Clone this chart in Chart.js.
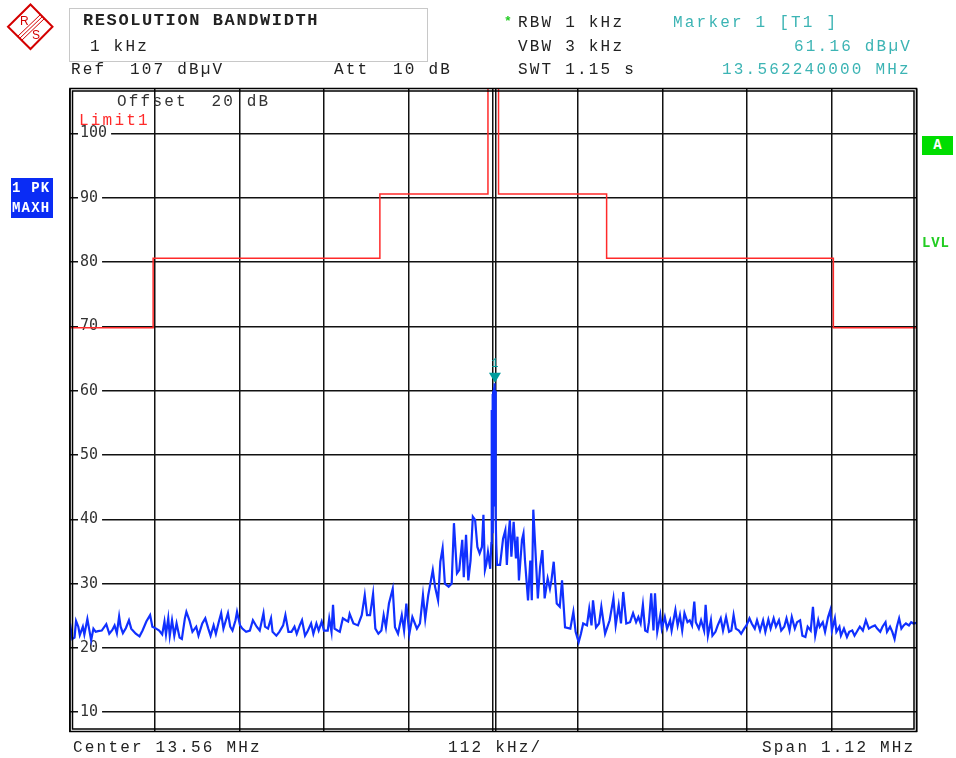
<!DOCTYPE html>
<html>
<head>
<meta charset="utf-8">
<script src="https://cdn.jsdelivr.net/npm/chart.js@4.4.1/dist/chart.umd.min.js"></script>
<style>
  html, body { margin: 0; padding: 0; background: #fff; }
  body { width: 956px; height: 758px; position: relative; overflow: hidden; }
  #chart { position: absolute; left: 0; top: 0; }
  .t { position: absolute; font-family: 'Liberation Mono', monospace; font-size: 16px; line-height: 16px;
       letter-spacing: 2.2px; color: #222; white-space: pre; }
  .tb { position: absolute; font-family: 'Liberation Mono', monospace; font-size: 17px; line-height: 18px;
        letter-spacing: 1.6px; font-weight: bold; color: #222; white-space: pre; }
  .teal { color: #3cb4b4; }
  .box { position: absolute; left: 69px; top: 8px; width: 357px; height: 52px; border: 1px solid #c8c8c8; }
  .pk { position: absolute; left: 11px; top: 178px; width: 42px; height: 40px; background: #0a2cf5; }
  .pk div { position: absolute; left: 1px; width: 42px; color: #fff; font-family: 'Liberation Mono', monospace;
            font-weight: bold; font-size: 14px; line-height: 14px; letter-spacing: 1.2px; white-space: pre; }
  .abox { position: absolute; left: 922px; top: 136px; width: 31px; height: 19px; background: #00dd00;
          color: #fff; font-family: 'Liberation Mono', monospace; font-weight: bold; font-size: 14px;
          line-height: 19px; text-align: center; }
  .lvl { position: absolute; left: 922px; top: 235px; color: #22cc22; font-family: 'Liberation Mono', monospace;
         font-weight: bold; font-size: 14px; line-height: 16px; letter-spacing: 0.8px; }
</style>
</head>
<body>
<canvas id="chart" width="956" height="758"></canvas>

<svg width="60" height="56" style="position:absolute;left:0;top:0">
  <polygon points="30.5,4.5 52.5,26.8 30.5,49 8,26.8" fill="#fff" stroke="#d40000" stroke-width="2"/>
  <line x1="17" y1="37" x2="41" y2="14" stroke="#d40000" stroke-width="1"/>
  <line x1="19" y1="39" x2="43" y2="16" stroke="#d40000" stroke-width="1"/>
  <line x1="21" y1="41" x2="45" y2="18" stroke="#d40000" stroke-width="1"/>
  <text x="20" y="25" font-family="Liberation Sans" font-size="12" fill="#d40000">R</text>
  <text x="32" y="39" font-family="Liberation Sans" font-size="12" fill="#d40000">S</text>
</svg>

<div class="box"></div>
<div class="tb" style="left:83px;top:12px">RESOLUTION BANDWIDTH</div>
<div class="t" style="left:90px;top:39px">1 kHz</div>
<div class="t" style="left:71px;top:62px">Ref  107 dBµV</div>
<div class="t" style="left:334px;top:62px">Att  10 dB</div>

<div class="t" style="left:504px;top:14px;color:#22cc22;font-weight:bold;font-size:13px">*</div>
<div class="t" style="left:518px;top:15px">RBW 1 kHz</div>
<div class="t" style="left:518px;top:39px">VBW 3 kHz</div>
<div class="t" style="left:518px;top:62px">SWT 1.15 s</div>
<div class="t teal" style="left:673px;top:15px">Marker 1 [T1 ]</div>
<div class="t teal" style="left:794px;top:39px">61.16 dBµV</div>
<div class="t teal" style="left:722px;top:62px">13.562240000 MHz</div>

<div class="t" style="left:117px;top:94px;color:#333">Offset  20 dB</div>
<div class="t" style="left:79px;top:113px;color:#ff2a2a">Limit1</div>

<div class="pk"><div style="top:3px">1 PK</div><div style="top:23px">MAXH</div></div>
<div class="abox">A</div>
<div class="lvl">LVL</div>

<div class="t" style="left:73px;top:740px">Center 13.56 MHz</div>
<div class="t" style="left:448px;top:740px">112 kHz/</div>
<div class="t" style="left:762px;top:740px">Span 1.12 MHz</div>

<script>
// sweep settings
const centerMHz = 13.56;
const startMHz = 13.00;
const stopMHz = 14.12;
const bottomDb = 7;
const refDb = 107;

// vertical grid (112 kHz/div, center line drawn double)
const gridMHz = [13.000, 13.112, 13.224, 13.336, 13.448, 13.5588, 13.5627, 13.672, 13.784, 13.896, 14.008, 14.120];
// level tick labels
const levelTicks = [10, 20, 30, 40, 50, 60, 70, 80, 90, 100];

// Limit1 mask (stepped)
const limitEdgeMHz = [13.000, 13.110, 13.410, 13.553, 13.567, 13.710, 14.010, 14.120];
const limitLevelDb = [69.8, 80.6, 90.6, 120, 90.6, 80.6, 69.8, 69.8];

// marker 1
const markerMHz = 13.56224;
const markerDb = 61.16;

// trace 1 (PK, MAXH): offset from center in kHz, level in dBµV
const traceOffsetKHz = [
  -560, -557, -554, -552, -549, -547, -543, -541, -537, -534,
  -532, -529, -526, -523, -518, -512, -508, -504, -501, -498,
  -495, -493, -490, -486, -482, -479, -473, -468, -464, -459,
  -454, -451, -446, -442, -438, -435, -433, -430, -428, -425,
  -422, -419, -415, -412, -408, -406, -402, -398, -393, -390,
  -385, -381, -377, -374, -370, -367, -363, -360, -357, -355,
  -351, -348, -345, -341, -339, -335, -332, -327, -322, -318,
  -313, -309, -304, -302, -298, -294, -292, -287, -283, -278,
  -275, -271, -267, -263, -260, -256, -253, -249, -246, -241,
  -238, -234, -231, -227, -224, -219, -217, -214, -212, -210,
  -206, -203, -199, -195, -192, -190, -185, -179, -174, -170,
  -167, -163, -159, -156, -152, -148, -145, -142, -138, -133,
  -130, -126, -121, -118, -115, -111, -107, -101, -97, -93,
  -90, -86, -84, -80, -77, -73, -70, -67, -64, -59,
  -55, -52, -48, -45, -41, -39, -36, -33, -30, -27,
  -24, -21, -18, -15, -13, -11, -9, -7, -4, -2.5,
  -2, -1.5, -1, -0.5, 0, 0.5, 1, 1.5, 2, 2.5,
  3, 3.5, 4, 5, 9, 13, 16, 18,
  20, 22, 24, 27, 30, 32, 34, 38, 40, 42,
  46, 49, 51, 53, 56, 59, 62, 65, 68, 72,
  75, 77, 80, 84, 88, 91, 95, 102, 106, 109,
  113, 116, 119, 124, 127, 130, 132, 136, 140, 143,
  148, 154, 159, 162, 166, 169, 172, 176, 181, 185,
  189, 192, 195, 198, 201, 204, 206, 209, 212, 214,
  217, 221, 223, 227, 230, 234, 236, 241, 244, 247,
  250, 253, 257, 260, 263, 266, 268, 272, 275, 279,
  281, 284, 288, 290, 294, 297, 301, 304, 308, 312,
  315, 318, 321, 325, 328, 332, 335, 339, 342, 346,
  349, 353, 357, 360, 364, 367, 371, 374, 378, 381,
  385, 388, 392, 395, 399, 402, 406, 409, 413, 416,
  420, 423, 426, 430, 432, 436, 439, 443, 446, 448,
  452, 454, 458, 460, 464, 468, 471, 475, 478, 482,
  485, 489, 493, 497, 501, 505, 508, 512, 515, 519,
  521, 525, 528, 531, 534, 537, 540, 543, 546, 550,
  553, 556, 560
];
const traceLevelDb = [
  23.8, 21.4, 21.6, 24.2, 23.3, 22.0, 23.3, 22.1, 24.5, 22.5,
  21.2, 23.0, 22.5, 22.6, 22.7, 23.7, 22.2, 22.8, 23.5, 22.3,
  24.9, 23.3, 22.3, 23.1, 24.3, 23.0, 22.2, 21.8, 22.7, 24.1,
  25.1, 23.3, 23.0, 22.7, 22.1, 24.1, 22.1, 24.6, 21.9, 24.3,
  21.9, 23.8, 21.6, 21.4, 24.6, 25.6, 24.3, 22.5, 23.3, 21.9,
  23.8, 24.6, 23.0, 21.9, 23.5, 22.2, 24.1, 25.4, 23.0, 23.8,
  25.4, 23.3, 22.7, 24.3, 25.6, 23.5, 23.0, 22.5, 22.7, 24.3,
  23.3, 22.7, 25.4, 23.3, 23.0, 24.6, 22.5, 21.9, 22.5, 23.5,
  25.1, 22.5, 22.5, 23.3, 22.2, 23.5, 24.3, 21.9, 22.5, 23.8,
  22.2, 23.8, 22.7, 24.1, 22.7, 22.7, 24.6, 22.5, 26.7, 23.0,
  22.7, 22.5, 24.6, 24.3, 24.1, 25.3, 23.8, 23.5, 25.1, 28.2,
  25.1, 25.1, 28.4, 23.0, 22.2, 22.7, 25.1, 23.2, 26.9, 29.2,
  23.2, 22.2, 25.1, 22.7, 26.9, 22.2, 24.8, 23.0, 23.8, 28.2,
  24.5, 28.2, 29.5, 32.1, 29.5, 27.4, 33.4, 35.5, 30.0, 29.5,
  30.0, 39.4, 31.6, 32.1, 36.8, 31.0, 37.6, 30.5, 33.6, 40.4,
  39.9, 35.7, 34.7, 35.7, 40.7, 32.1, 33.1, 34.9, 32.3, 36.3,
  57.0, 38.0, 59.5, 40.0, 60.0, 42.0, 60.5, 45.0, 61.16, 47.0,
  60.0, 40.0, 36.0, 32.9, 32.9, 37.0, 38.3, 32.9,
  37.3, 39.9, 34.2, 39.6, 33.9, 37.3, 30.5, 36.8, 37.8, 33.6,
  27.4, 33.6, 27.4, 41.5, 34.7, 27.7, 32.6, 35.2, 27.7, 30.8,
  29.2, 30.5, 33.4, 26.9, 26.4, 30.5, 23.2, 23.0, 25.6, 22.5,
  20.9, 22.2, 23.8, 23.5, 26.1, 23.5, 27.4, 23.2, 23.8, 26.4,
  22.2, 24.3, 27.7, 23.5, 26.6, 23.8, 28.7, 23.8, 24.0, 25.4,
  24.0, 24.8, 23.8, 26.7, 22.7, 22.5, 24.0, 28.5, 22.7, 28.5,
  22.5, 25.1, 23.0, 24.8, 23.0, 24.3, 22.7, 25.9, 23.5, 25.1,
  22.7, 25.4, 24.0, 24.3, 23.5, 27.2, 24.0, 23.0, 24.3, 22.7,
  26.7, 21.9, 24.3, 21.9, 22.5, 23.5, 24.6, 22.7, 24.8, 22.5,
  22.7, 25.1, 23.0, 22.7, 22.2, 23.0, 23.5, 24.6, 23.8, 23.0,
  24.3, 22.7, 24.3, 22.5, 24.4, 23.0, 24.6, 23.3, 24.3, 22.7,
  23.3, 24.6, 22.7, 24.8, 23.0, 24.0, 24.3, 21.9, 21.7, 23.3,
  22.7, 26.4, 21.9, 24.3, 23.3, 24.0, 22.5, 24.8, 25.9, 22.7,
  24.6, 22.5, 23.3, 21.9, 23.0, 21.7, 22.5, 22.7, 21.9, 22.7,
  23.3, 22.7, 24.3, 23.0, 23.3, 23.5, 23.0, 22.5, 23.3, 24.0,
  22.5, 23.3, 22.5, 21.4, 23.3, 24.6, 23.0, 23.5, 23.8, 23.5,
  24.0, 23.8, 23.9
];

const framePlugin = {
  id: 'frame',
  afterDatasetsDraw(chart) {
    const { ctx, chartArea: a } = chart;
    ctx.save();
    ctx.strokeStyle = '#000';
    ctx.lineWidth = 1.5;
    ctx.strokeRect(a.left, a.top, a.width, a.height);
    ctx.strokeRect(a.left + 2.5, a.top + 2.5, a.width - 5, a.height - 5);
    ctx.restore();
  }
};

const markerPlugin = {
  id: 'marker1',
  afterDatasetsDraw(chart) {
    const { ctx, scales } = chart;
    const px = scales.x.getPixelForValue(markerMHz);
    const py = scales.y.getPixelForValue(markerDb);
    ctx.save();
    ctx.fillStyle = '#009c9c';
    ctx.beginPath();
    ctx.moveTo(px, py - 0.5);
    ctx.lineTo(px - 6, py - 10.5);
    ctx.lineTo(px + 6, py - 10.5);
    ctx.closePath();
    ctx.fill();
    ctx.font = '12px "Liberation Mono"';
    ctx.textAlign = 'center';
    ctx.textBaseline = 'alphabetic';
    ctx.fillText('1', px, py - 16);
    ctx.restore();
  }
};

const ctx = document.getElementById('chart').getContext('2d');
new Chart(ctx, {
  type: 'line',
  data: {
    datasets: [
      {
        label: 'Limit1',
        data: limitEdgeMHz.map((f, i) => ({ x: f, y: limitLevelDb[i] })),
        borderColor: '#ff2a2a',
        borderWidth: 1.5,
        stepped: 'before',
        pointRadius: 0,
        fill: false
      },
      {
        label: '1 PK MAXH',
        data: traceOffsetKHz.map((k, i) => ({ x: centerMHz + k / 1000, y: traceLevelDb[i] })),
        borderColor: '#1030ff',
        borderWidth: 2.2,
        pointRadius: 0,
        tension: 0,
        fill: false
      }
    ]
  },
  options: {
    responsive: false,
    animation: false,
    layout: { padding: { left: 70, right: 39.5, top: 88.5, bottom: 26.5 } },
    plugins: { legend: { display: false }, tooltip: { enabled: false } },
    scales: {
      x: {
        type: 'linear',
        min: startMHz,
        max: stopMHz,
        afterBuildTicks: (s) => { s.ticks = gridMHz.map(v => ({ value: v })); },
        afterFit: (s) => { s.height = 0; },
        ticks: { display: false },
        grid: { color: '#111', lineWidth: 1.5, drawTicks: false },
        border: { display: false }
      },
      y: {
        type: 'linear',
        min: bottomDb,
        max: refDb,
        afterBuildTicks: (s) => { s.ticks = levelTicks.map(v => ({ value: v })); },
        afterFit: (s) => { s.width = 0; },
        ticks: {
          mirror: true,
          padding: 10,
          color: '#333',
          font: { family: "'DejaVu Sans Mono'", size: 15 },
          showLabelBackdrop: true,
          backdropColor: '#fff',
          backdropPadding: { left: 2, right: 4, top: 0, bottom: 0 }
        },
        grid: { color: '#111', lineWidth: 1.5, drawTicks: false },
        border: { display: false }
      }
    }
  },
  plugins: [framePlugin, markerPlugin]
});
</script>
</body>
</html>
